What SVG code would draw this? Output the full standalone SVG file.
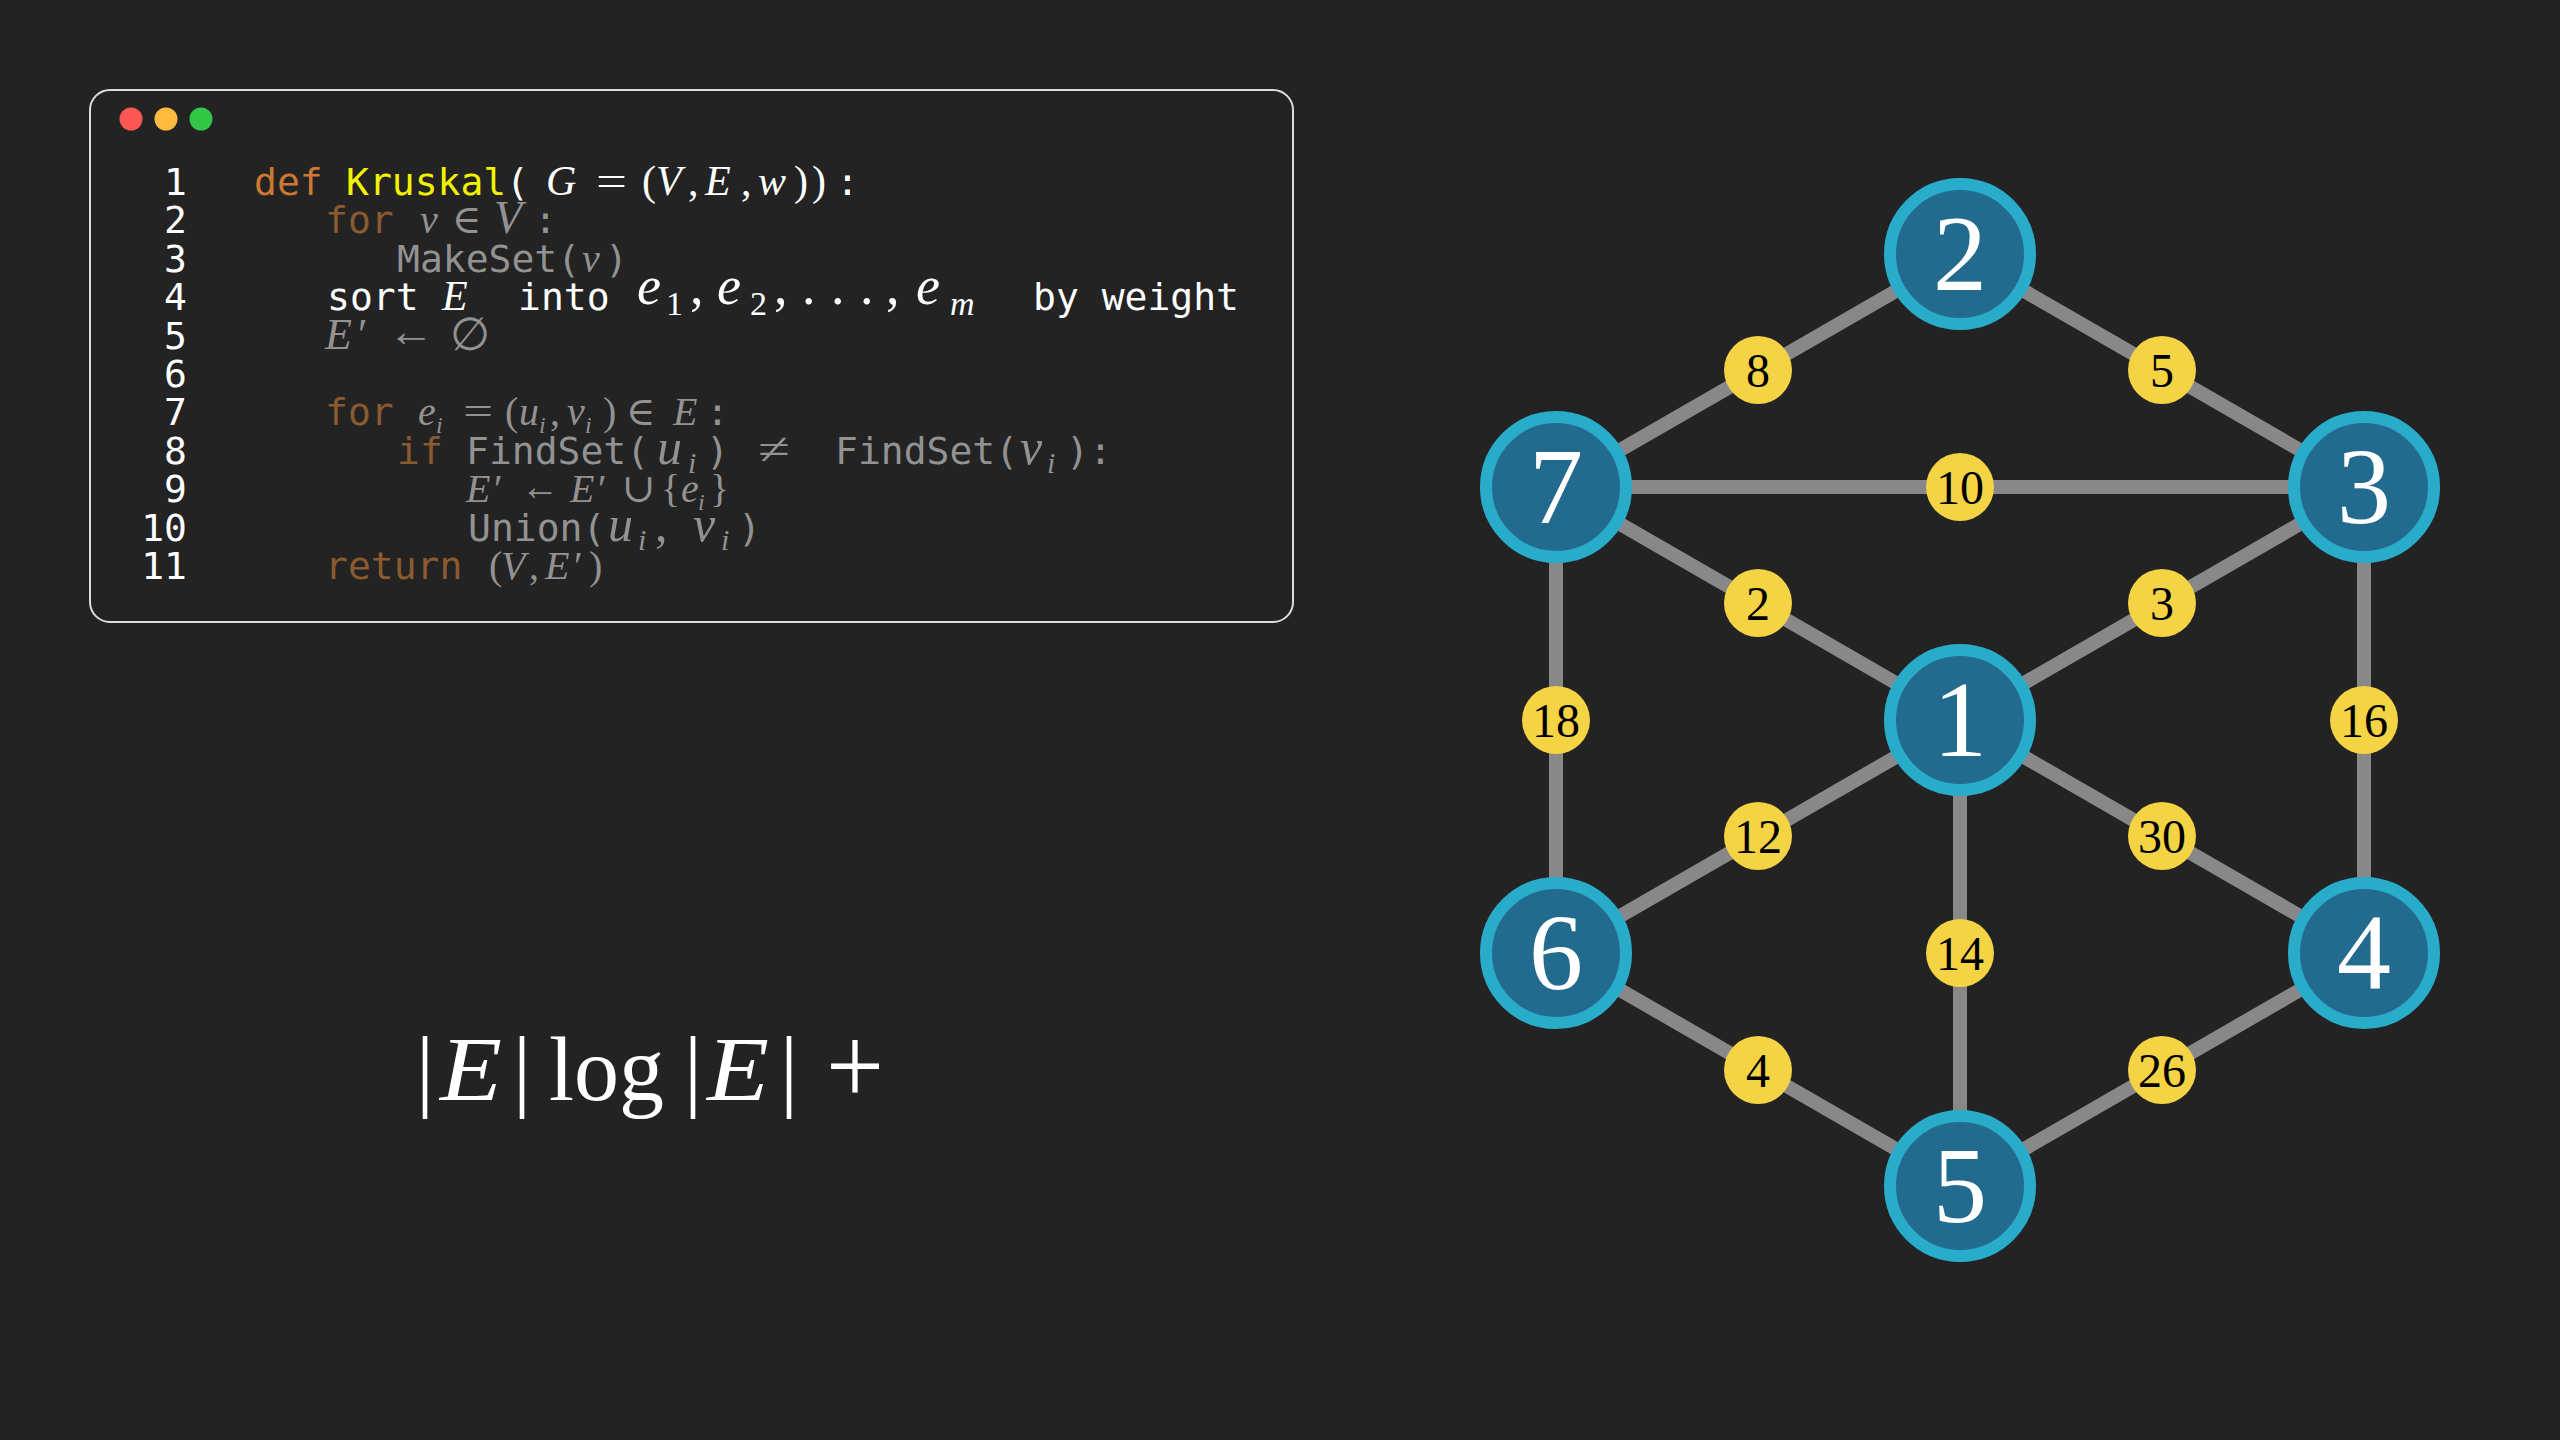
<svg xmlns="http://www.w3.org/2000/svg" width="2560" height="1440" viewBox="0 0 2560 1440">
<style>
.mono{font-family:"DejaVu Sans Mono","Liberation Mono",monospace;font-size:38px}
.m{font-family:"Liberation Serif","DejaVu Serif",serif;font-size:40px}
.it{font-style:italic}
.ln{fill:#ffffff;text-anchor:end}
.kw{fill:#cc7832}
.kwd{fill:#8a5a30}
.fn{fill:#f2f200}
.w{fill:#ffffff}
.g{fill:#929292}
.edge{stroke:#888888;stroke-width:14;fill:none}
.node circle{fill:#236b8e;stroke:#29abca;stroke-width:12}
.node text{font-family:"Liberation Serif","DejaVu Serif",serif;font-size:108px;fill:#ffffff;text-anchor:middle}
.wt circle{fill:#f4d345}
.wt text{font-family:"Liberation Serif","DejaVu Serif",serif;font-size:48px;fill:#000000;text-anchor:middle}
.big{font-family:"Liberation Serif","DejaVu Serif",serif;font-size:90px;fill:#ffffff}
</style>
<rect x="0" y="0" width="2560" height="1440" fill="#232323"/>

<g id="code-window">
<rect x="90" y="90" width="1203" height="532" rx="20" fill="#232323" stroke="#dcdcdc" stroke-width="2"/>
<circle cx="131" cy="119" r="11.5" fill="#fc5753"/>
<circle cx="166" cy="119" r="11.5" fill="#fdbc40"/>
<circle cx="201" cy="119" r="11.5" fill="#33c748"/>
</g>

<g id="line-numbers" class="mono ln">
<text x="187" y="195">1</text>
<text x="187" y="233.4">2</text>
<text x="187" y="271.8">3</text>
<text x="187" y="310.2">4</text>
<text x="187" y="348.6">5</text>
<text x="187" y="387">6</text>
<text x="187" y="425.4">7</text>
<text x="187" y="463.8">8</text>
<text x="187" y="502.2">9</text>
<text x="187" y="540.6">10</text>
<text x="187" y="579">11</text>
</g>

<g id="code">
<!-- line 1 -->
<text class="mono" y="195"><tspan class="kw" x="254">def</tspan><tspan class="fn" x="346">Kruskal</tspan><tspan class="w" x="506">(</tspan></text>
<text class="m w" y="195" style="font-size:42px"><tspan class="it" x="546">G</tspan><tspan x="642">(</tspan><tspan class="it" x="656">V</tspan><tspan x="688">,</tspan><tspan class="it" x="705">E</tspan><tspan x="741">,</tspan><tspan class="it" x="758">w</tspan><tspan x="794">)</tspan><tspan x="812">)</tspan></text>
<text class="m w" x="596" y="195" textLength="31" lengthAdjust="spacingAndGlyphs" style="font-size:42px">=</text>
<text class="mono w" x="836" y="195">:</text>
<!-- line 2 -->
<text class="mono kwd" x="325" y="233.4">for</text>
<text class="m g" y="233.4"><tspan class="it" x="420">v</tspan><tspan x="452">∈</tspan><tspan class="it" x="494" style="font-size:46px">V</tspan></text>
<text class="mono g" x="534" y="233.4">:</text>
<!-- line 3 -->
<text class="mono g" x="397" y="271.8">MakeSet(</text>
<text class="m g it" x="582" y="271.8">v</text>
<text class="mono g" x="605" y="271.8">)</text>
<!-- line 4 -->
<text class="mono w" x="327" y="310.2">sort</text>
<text class="m w it" x="442" y="310.2" style="font-size:42px">E</text>
<text class="mono w" x="518" y="310.2">into</text>
<text class="m w" style="font-size:54px"><tspan class="it" x="637" y="304">e</tspan><tspan x="666" y="315" style="font-size:34px">1</tspan><tspan x="690" y="304">,</tspan><tspan class="it" x="717" y="304">e</tspan><tspan x="750" y="315" style="font-size:34px">2</tspan><tspan x="774" y="304">,</tspan><tspan x="802" y="304">.</tspan><tspan x="831" y="304">.</tspan><tspan x="860" y="304">.</tspan><tspan x="886" y="304">,</tspan><tspan class="it" x="916" y="304">e</tspan><tspan class="it" x="950" y="315" style="font-size:34px">m</tspan></text>
<text class="mono w" x="1033" y="310.2">by weight</text>
<!-- line 5 -->
<text class="m g" y="348.6" style="font-size:44px"><tspan class="it" x="325">E</tspan><tspan x="358">′</tspan></text>
<text class="m g" x="388" y="346" textLength="46" lengthAdjust="spacingAndGlyphs" style="font-size:44px">←</text>
<text class="m g" x="450" y="350" style="font-size:46px">∅</text>
<!-- line 7 -->
<text class="mono kwd" x="325" y="425.4">for</text>
<text class="m g"><tspan class="it" x="418" y="425.4">e</tspan><tspan class="it" x="436" y="433" style="font-size:24px">i</tspan></text>
<text class="m g" x="463" y="425.4" textLength="30" lengthAdjust="spacingAndGlyphs">=</text>
<text class="m g"><tspan x="505" y="425.4">(</tspan><tspan class="it" x="519" y="425.4">u</tspan><tspan class="it" x="539" y="433" style="font-size:24px">i</tspan><tspan x="550" y="425.4">,</tspan><tspan class="it" x="567" y="425.4">v</tspan><tspan class="it" x="585" y="433" style="font-size:24px">i</tspan><tspan x="603" y="425.4">)</tspan><tspan x="626" y="425.4">∈</tspan><tspan class="it" x="673" y="425.4">E</tspan></text>
<text class="mono g" x="706" y="425.4">:</text>
<!-- line 8 -->
<text class="mono" y="463.8"><tspan class="kwd" x="397">if</tspan><tspan class="g" x="466">FindSet(</tspan></text>
<text class="m g it"><tspan x="657" y="463.8" style="font-size:50px">u</tspan><tspan x="688" y="473" style="font-size:30px">i</tspan></text>
<text class="mono g" x="706" y="463.8">)</text>
<text class="m g" x="758" y="463.8" textLength="32" lengthAdjust="spacingAndGlyphs" style="font-size:44px">≠</text>
<text class="mono g" x="835" y="463.8">FindSet(</text>
<text class="m g it"><tspan x="1020" y="463.8" style="font-size:50px">v</tspan><tspan x="1047" y="473" style="font-size:30px">i</tspan></text>
<text class="mono g" x="1066" y="463.8">):</text>
<!-- line 9 -->
<text class="m g" y="502.2"><tspan class="it" x="466">E</tspan><tspan x="494">′</tspan></text>
<text class="m g" x="521" y="500" textLength="38" lengthAdjust="spacingAndGlyphs">←</text>
<text class="m g"><tspan class="it" x="570" y="502.2">E</tspan><tspan x="598" y="502.2">′</tspan><tspan x="622" y="502.2">∪</tspan><tspan x="661" y="502.2">{</tspan><tspan class="it" x="681" y="502.2">e</tspan><tspan class="it" x="698" y="510" style="font-size:24px">i</tspan><tspan x="710" y="502.2">}</tspan></text>
<!-- line 10 -->
<text class="mono g" x="468" y="540.6">Union(</text>
<text class="m g"><tspan class="it" x="608" y="540.6" style="font-size:50px">u</tspan><tspan class="it" x="638" y="550" style="font-size:30px">i</tspan><tspan x="655" y="540.6" style="font-size:50px">,</tspan><tspan class="it" x="693" y="540.6" style="font-size:50px">v</tspan><tspan class="it" x="721" y="550" style="font-size:30px">i</tspan></text>
<text class="mono g" x="738" y="540.6">)</text>
<!-- line 11 -->
<text class="mono kwd" x="325" y="579">return</text>
<text class="m g" y="579"><tspan x="489">(</tspan><tspan class="it" x="501">V</tspan><tspan x="529">,</tspan><tspan class="it" x="545">E</tspan><tspan x="574">′</tspan><tspan x="589">)</tspan></text>
</g>

<g id="complexity" class="big">
<text x="416" y="1100">|</text>
<text x="440" y="1100" font-style="italic" textLength="62" lengthAdjust="spacingAndGlyphs">E</text>
<text x="513" y="1100">|</text>
<text x="549" y="1100">log</text>
<text x="684" y="1100">|</text>
<text x="707" y="1100" font-style="italic" textLength="62" lengthAdjust="spacingAndGlyphs">E</text>
<text x="780" y="1100">|</text>
<text x="826" y="1104" textLength="58" lengthAdjust="spacingAndGlyphs" style="font-size:112px">+</text>
</g>

<g id="edges">
<line class="edge" x1="1556" y1="487" x2="1960" y2="254"/>
<line class="edge" x1="1960" y1="254" x2="2364" y2="487"/>
<line class="edge" x1="1556" y1="487" x2="2364" y2="487"/>
<line class="edge" x1="1556" y1="487" x2="1960" y2="720"/>
<line class="edge" x1="2364" y1="487" x2="1960" y2="720"/>
<line class="edge" x1="1556" y1="487" x2="1556" y2="953"/>
<line class="edge" x1="2364" y1="487" x2="2364" y2="953"/>
<line class="edge" x1="1556" y1="953" x2="1960" y2="720"/>
<line class="edge" x1="1960" y1="720" x2="2364" y2="953"/>
<line class="edge" x1="1960" y1="720" x2="1960" y2="1186"/>
<line class="edge" x1="1556" y1="953" x2="1960" y2="1186"/>
<line class="edge" x1="1960" y1="1186" x2="2364" y2="953"/>
</g>

<g id="weights">
<g class="wt" id="w-7-2"><circle cx="1758" cy="370" r="34"/><text x="1758" y="387">8</text></g>
<g class="wt" id="w-2-3"><circle cx="2162" cy="370" r="34"/><text x="2162" y="387">5</text></g>
<g class="wt" id="w-7-3"><circle cx="1960" cy="487" r="34"/><text x="1960" y="504">10</text></g>
<g class="wt" id="w-7-1"><circle cx="1758" cy="603" r="34"/><text x="1758" y="620">2</text></g>
<g class="wt" id="w-3-1"><circle cx="2162" cy="603" r="34"/><text x="2162" y="620">3</text></g>
<g class="wt" id="w-7-6"><circle cx="1556" cy="720" r="34"/><text x="1556" y="737">18</text></g>
<g class="wt" id="w-3-4"><circle cx="2364" cy="720" r="34"/><text x="2364" y="737">16</text></g>
<g class="wt" id="w-6-1"><circle cx="1758" cy="836" r="34"/><text x="1758" y="853">12</text></g>
<g class="wt" id="w-1-4"><circle cx="2162" cy="836" r="34"/><text x="2162" y="853">30</text></g>
<g class="wt" id="w-1-5"><circle cx="1960" cy="953" r="34"/><text x="1960" y="970">14</text></g>
<g class="wt" id="w-6-5"><circle cx="1758" cy="1070" r="34"/><text x="1758" y="1087">4</text></g>
<g class="wt" id="w-5-4"><circle cx="2162" cy="1070" r="34"/><text x="2162" y="1087">26</text></g>
</g>

<g class="node" id="node-1"><circle cx="1960" cy="720" r="70"/><text x="1960" y="756">1</text></g>
<g class="node" id="node-2"><circle cx="1960" cy="254" r="70"/><text x="1960" y="290">2</text></g>
<g class="node" id="node-3"><circle cx="2364" cy="487" r="70"/><text x="2364" y="523">3</text></g>
<g class="node" id="node-4"><circle cx="2364" cy="953" r="70"/><text x="2364" y="989">4</text></g>
<g class="node" id="node-5"><circle cx="1960" cy="1186" r="70"/><text x="1960" y="1222">5</text></g>
<g class="node" id="node-6"><circle cx="1556" cy="953" r="70"/><text x="1556" y="989">6</text></g>
<g class="node" id="node-7"><circle cx="1556" cy="487" r="70"/><text x="1556" y="523">7</text></g>
</svg>
